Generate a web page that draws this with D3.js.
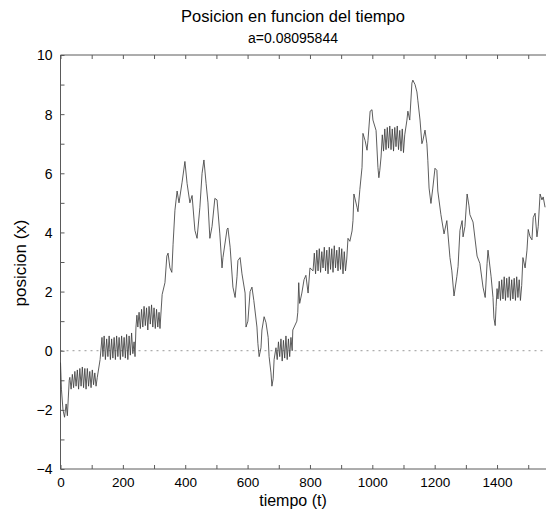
<!DOCTYPE html>
<html>
<head>
<meta charset="utf-8">
<script src="https://cdn.jsdelivr.net/npm/d3@7"></script>
<style>
  html, body { margin: 0; padding: 0; background: #fff; }
  svg { display: block; }
  text { font-family: "Liberation Sans", Arial, Helvetica, sans-serif; fill: #000; }
</style>
</head>
<body>
<svg id="chart" width="546" height="511"></svg>
<script>
// ---- Data ----
const tiempo = [
  0, 3, 8, 13, 18, 22, 25, 28,
  30, 34, 38, 42, 46, 50, 54, 58, 62, 66, 70, 74, 78, 82, 86, 90, 94, 98, 102, 106, 110, 114, 118,
  127, 133,
  136, 140, 144, 148, 152, 156, 160, 164, 168, 172, 176, 180, 184, 188, 192, 196, 200, 204, 208, 212, 216, 220, 224, 228, 232, 236, 239,
  242, 245,
  248, 252, 256, 260, 264, 268, 272, 276, 280, 284, 288, 292, 296, 300, 304, 308, 312, 316, 319,
  326, 335, 341, 345, 351, 357, 361, 367, 374, 380, 390, 399, 406, 415, 422, 431, 438, 447, 454, 460, 467, 473, 479,
  486, 495, 502, 511, 518, 521, 534, 537, 544, 553, 560, 566, 569, 576, 582, 592, 595, 601, 608, 614, 620, 630, 633,
  637, 643, 646, 653, 659, 666, 669, 675, 678, 682, 685, 691,
  695, 699, 703, 707, 711, 715, 719, 723, 727, 731, 735, 739, 743,
  745, 758, 761, 764, 767, 774, 781, 787, 794, 800,
  810, 814, 818, 822, 826, 830, 834, 838, 842, 846, 850, 854, 858, 862, 866, 870, 874, 878, 882, 886, 890, 894, 898, 902, 906, 910, 914, 918,
  922, 928, 935, 938, 941, 951, 954, 960, 967, 970, 977, 983, 986, 993, 999, 1002, 1012, 1018, 1021, 1024, 1028,
  1032, 1036, 1040, 1044, 1048, 1052, 1056, 1060, 1064, 1068, 1072, 1076, 1080, 1084, 1088, 1092, 1096, 1100, 1104,
  1111, 1114, 1120, 1127, 1130, 1137, 1143, 1146, 1153, 1159, 1162, 1169, 1175, 1178, 1182, 1188, 1194, 1201, 1207, 1210,
  1220, 1230, 1239, 1249, 1255, 1262, 1271, 1275, 1281, 1288, 1291, 1297, 1304, 1310, 1313, 1323, 1336, 1345, 1355, 1362,
  1368, 1371, 1381, 1387, 1390, 1394, 1397, 1400,
  1403, 1407, 1411, 1415, 1419, 1423, 1427, 1431, 1435, 1439, 1443, 1447, 1451, 1455, 1459, 1463, 1467, 1471, 1475, 1479,
  1483, 1490, 1496, 1500, 1506, 1512, 1516, 1522, 1528, 1532, 1538, 1544, 1548, 1554
];
const posicion = [
  -0.4, -1.3, -2.0, -2.25, -1.8, -2.2, -1.6, -1.0,
  -0.9, -1.3, -0.8, -1.25, -0.7, -1.2, -0.65, -1.3, -0.6, -1.2, -0.55, -1.25, -0.6, -1.3, -0.6, -1.2, -0.7, -1.25, -0.65, -1.15, -0.75, -1.2, -0.9,
  -0.3, 0.45,
  -0.2, 0.5, -0.3, 0.4, -0.2, 0.5, -0.3, 0.4, -0.25, 0.45, -0.3, 0.5, -0.2, 0.45, -0.3, 0.5, -0.2, 0.45, -0.25, 0.55, -0.3, 0.5, -0.15, 0.6, -0.1, 0.3, -0.2,
  0.8, 1.2,
  0.8, 1.3, 0.75, 1.4, 0.8, 1.5, 0.85, 1.45, 0.7, 1.5, 0.9, 1.55, 0.8, 1.45, 0.75, 1.4, 0.8, 1.3, 0.75,
  1.9, 2.3, 3.2, 3.3, 2.8, 2.65, 3.6, 4.75, 5.4, 5.0, 5.7, 6.4, 5.65, 5.0, 5.25, 4.07, 3.8, 4.85, 6.0, 6.45, 5.65, 5.0, 3.8,
  4.2, 5.15, 5.1, 3.95, 2.8, 3.15, 4.1, 4.15, 3.5, 2.15, 1.8, 2.5, 3.05, 3.15, 2.6, 1.95, 0.8, 1.0, 2.0, 2.15, 1.7, 0.8, 0.25,
  -0.2, 0.1, 0.7, 1.15, 0.95, 0.45, -0.2, -0.75, -1.2, -0.95, -0.3, 0.1,
  -0.3, 0.3, -0.2, 0.4, -0.35, 0.35, -0.25, 0.5, -0.3, 0.4, -0.2, 0.45, 0.0,
  0.7, 1.0, 1.3, 2.3, 1.6, 1.95, 2.4, 2.55, 1.95, 2.8,
  2.7, 3.3, 2.6, 3.4, 2.7, 3.45, 2.65, 3.35, 2.8, 3.5, 2.7, 3.4, 2.6, 3.5, 2.75, 3.45, 2.65, 3.55, 2.8, 3.4, 2.7, 3.5, 2.75, 3.45, 2.6, 3.35, 2.7, 3.1,
  3.8, 3.7, 4.05, 4.4, 5.3, 4.85, 4.7, 5.45, 6.2, 7.35, 7.1, 6.78, 7.1, 8.1, 8.15, 7.8, 7.45, 6.2, 5.85, 6.1, 6.55,
  7.3, 6.75, 7.5, 6.8, 7.55, 6.85, 7.6, 6.8, 7.5, 6.75, 7.55, 6.9, 7.6, 6.8, 7.45, 6.75, 7.5, 6.7, 7.3,
  7.8, 8.1, 7.8, 9.05, 9.15, 9.0, 8.75, 8.47, 7.8, 7.0, 7.1, 7.46, 7.0, 6.44, 5.5, 4.98, 5.5, 6.17, 6.1, 5.4,
  4.6, 3.95, 4.4, 3.15, 2.7, 1.85, 2.5, 2.85, 4.07, 4.4, 3.85, 4.2, 5.3, 4.9, 4.6, 4.35, 3.2, 2.95, 2.15, 1.8,
  2.95, 3.4, 2.5, 1.8, 1.1, 0.85, 1.5, 2.1,
  1.75, 2.35, 1.7, 2.4, 1.75, 2.5, 1.7, 2.45, 1.8, 2.5, 1.7, 2.4, 1.75, 2.45, 1.7, 2.5, 1.8, 2.4, 1.7, 2.2,
  3.15, 2.8, 3.4, 4.1, 3.85, 3.75, 4.5, 4.65, 3.85, 4.2, 5.3, 5.1, 5.2, 4.85
];
const xTickLabels = [0, 200, 400, 600, 800, 1000, 1200, 1400];
const xMinorTicks = [0, 100, 200, 300, 400, 500, 600, 700, 800, 900, 1000, 1100, 1200, 1300, 1400, 1500];
const yTickLabels = [-4, -2, 0, 2, 4, 6, 8, 10];
const yMinorTicks = [-4, -3, -2, -1, 0, 1, 2, 3, 4, 5, 6, 7, 8, 9, 10];
const titulo = "Posicion en funcion del tiempo";
const subtitulo = "a=0.08095844";
const xTitulo = "tiempo (t)";
const yTitulo = "posicion (x)";

// ---- Layout ----
const svg = d3.select("#chart");
const pLeft = 60.5, pRight = 546, pTop = 55, pBottom = 469;
const x = d3.scaleLinear().domain([0, 1557]).range([pLeft, pRight]);
const y = d3.scaleLinear().domain([-4, 10]).range([pBottom, pTop]);
const axisColor = "#5a5a5a";

// zero dotted reference line
svg.append("line")
  .attr("x1", x(0)).attr("x2", pRight)
  .attr("y1", y(0)).attr("y2", y(0))
  .attr("stroke", "#9a9a9a").attr("stroke-width", 1)
  .attr("stroke-dasharray", "2,4");

// frame lines (left, top, bottom)
svg.append("line").attr("x1", pLeft).attr("x2", pLeft).attr("y1", pTop).attr("y2", pBottom)
  .attr("stroke", axisColor).attr("stroke-width", 1);
svg.append("line").attr("x1", pLeft).attr("x2", pRight).attr("y1", pTop).attr("y2", pTop)
  .attr("stroke", axisColor).attr("stroke-width", 1);
svg.append("line").attr("x1", pLeft).attr("x2", pRight).attr("y1", pBottom).attr("y2", pBottom)
  .attr("stroke", axisColor).attr("stroke-width", 1);

// minor inward ticks
const styleTicks = g => {
  g.select(".domain").remove();
  g.selectAll(".tick line").attr("stroke", axisColor).attr("stroke-width", 1);
};
svg.append("g").attr("transform", `translate(0,${pBottom})`)
  .call(d3.axisBottom(x).tickValues(xMinorTicks).tickSize(-4).tickFormat(""))
  .call(styleTicks);
svg.append("g").attr("transform", `translate(0,${pTop})`)
  .call(d3.axisTop(x).tickValues(xMinorTicks).tickSize(-4).tickFormat(""))
  .call(styleTicks);
svg.append("g").attr("transform", `translate(${pLeft},0)`)
  .call(d3.axisLeft(y).tickValues(yMinorTicks).tickSize(-4).tickFormat(""))
  .call(styleTicks);

// labelled axes
const xAxis = svg.append("g").attr("transform", `translate(0,${pBottom})`)
  .call(d3.axisBottom(x).tickValues(xTickLabels).tickSize(0).tickPadding(0).tickFormat(d3.format("d")));
xAxis.select(".domain").remove();
xAxis.selectAll("text").attr("font-size", 13.5).attr("dy", null).attr("y", 17.5)
  .attr("font-family", "Liberation Sans, Arial, sans-serif").attr("fill", "#000");

const yAxis = svg.append("g").attr("transform", `translate(${pLeft},0)`)
  .call(d3.axisLeft(y).tickValues(yTickLabels).tickSize(0).tickPadding(8)
    .tickFormat(d => d < 0 ? "\u2212" + Math.abs(d) : String(d)));
yAxis.select(".domain").remove();
yAxis.selectAll("text").attr("font-size", 14).attr("dy", "0.35em")
  .attr("font-family", "Liberation Sans, Arial, sans-serif").attr("fill", "#000");

// data line
const line = d3.line()
  .x((d, i) => x(tiempo[i]))
  .y(d => y(d));
svg.append("path")
  .datum(posicion)
  .attr("d", line)
  .attr("fill", "none")
  .attr("stroke", "#404040")
  .attr("stroke-width", 0.85)
  .attr("stroke-linejoin", "round");

// titles
svg.append("text").attr("x", 293).attr("y", 22).attr("text-anchor", "middle")
  .attr("font-size", 16.5).text(titulo);
svg.append("text").attr("x", 293).attr("y", 43).attr("text-anchor", "middle")
  .attr("font-size", 14).text(subtitulo);
svg.append("text").attr("x", 293).attr("y", 506).attr("text-anchor", "middle")
  .attr("font-size", 16).text(xTitulo);
svg.append("text").attr("transform", "translate(26,263) rotate(-90)")
  .attr("text-anchor", "middle").attr("font-size", 17).text(yTitulo);
</script>
</body>
</html>
